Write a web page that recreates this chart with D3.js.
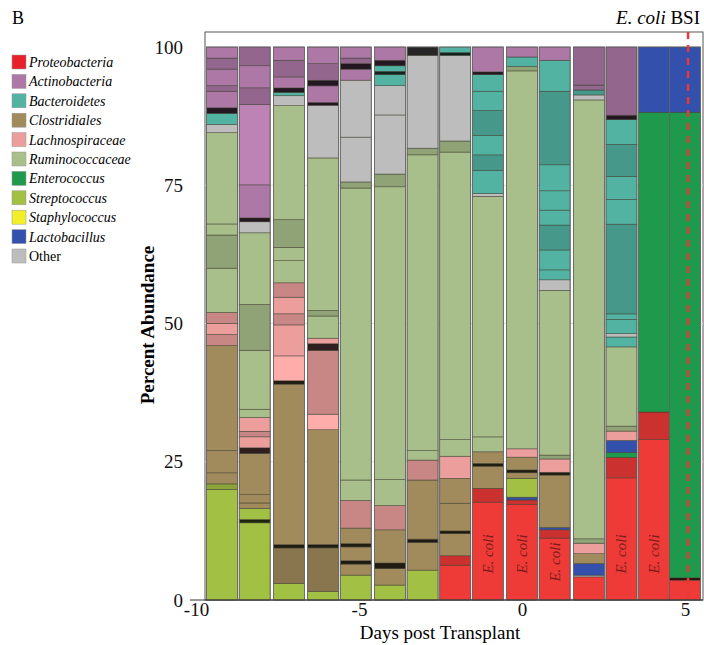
<!DOCTYPE html>
<html>
<meta charset="UTF-8">
<head>
<style>
body { margin: 0; background: white; }
text { font-family: "Liberation Serif", "DejaVu Serif", serif; }
</style>
</head>
<body>
<script src="https://d3js.org/d3.v7.min.js"></script>
<script>

// categories and colours
var categories = ['Proteobacteria', 'Actinobacteria', 'Bacteroidetes', 'Clostridiales',
                  'Lachnospiraceae', 'Ruminococcaceae', 'Enterococcus', 'Streptococcus',
                  'Staphylococcus', 'Lactobacillus', 'Other']
    codes = ['P', 'A', 'B', 'C', 'L', 'R', 'E', 'S', 'Y', 'T', 'O']
    baseColors = ['#ee3b37', '#ad78a6', '#52b3a2', '#a18a5c', '#eb9e9c', '#a9bf8b',
                  '#1f994b', '#a2c043', '#f2ee2a', '#3350ad', '#bdbdbd']

// sample days
var days = [-9.2, -8.2, -7.15, -6.1, -5.1, -4.05, -3.05, -2.05, -1.05, 0, 1, 2.05, 3.05, 4.05, 5]

// segments per sample, bottom to top: [code, percent, shade]
// shade 0 = base, 1 = darker, 2 = near black, 3 = lighter
var bar1 = [['S',20],['S',1,1],['C',2],['C',4],['C',19],['L',2,1],['L',2],['L',2,1],['R',8],['R',6,1],['R',2],['R',16.5],['O',1.5],['B',2],['A',1,2],['A',3],['A',1,1],['A',3],['A',2,1],['A',2]]
    bar2 = [['S',14],['S',0.6,2],['S',2],['C',1],['C',1.5],['C',7.5],['L',1,2],['L',2],['L',1,1],['L',2.5],['R',1.5],['R',10.7],['R',8.3,1],['R',13],['O',2],['A',0.7,2],['A',6],['A',14.6,3],['A',3,1],['A',4],['A',3.4,1]]
    bar3 = [['S',3],['C',6.4,1],['C',0.6,2],['C',29],['C',0.6,2],['L',4.5,3],['L',5.6],['L',2,1],['L',3],['L',2.6,1],['R',4],['R',2.4],['R',5,1],['R',20.6],['O',1.8],['B',0.6],['A',0.8,2],['A',2],['A',3,1],['A',2.4]]
    bar4 = [['S',1.5],['C',7.9,1],['C',0.6,2],['C',20.7],['L',2.8,3],['L',11.5,1],['L',1.2,2],['L',1],['R',4],['R',1,1],['R',27.5],['O',9.5],['A',0.5,2],['A',3],['A',1,2],['A',3,1],['A',3]]
    bar5 = [['S',4.5],['C',2],['C',0.6,2],['C',2.5],['C',0.6,2],['C',2.8],['L',5,1],['R',3.7],['R',52.8],['R',1.1,1],['O',8.1],['O',10.3],['A',2],['A',1,2],['A',1,1],['A',2]]
    bar6 = [['S',2.7],['C',3],['C',1,2],['C',6],['L',4.4,1],['R',4.7],['R',53],['R',2.3,1],['O',10.7],['O',5.3],['B',2],['B',0.6,2],['B',1],['A',1,2],['A',2.4]]
    bar7 = [['S',5.4],['C',5],['C',0.6,2],['C',10.7],['L',3.6,1],['R',1.7],['R',53.5],['R',1.2,1],['O',16.8],['O',1.5,2]]
    bar8 = [['P',6.3],['P',1.7,1],['C',4],['C',0.5,2],['C',5],['C',4.5],['L',4],['R',3],['R',52],['R',2,1],['O',15.5],['B',0.5,2],['B',1]]
    bar9 = [['P',17.7],['P',2.5,1],['C',4],['C',0.5,2],['C',2.1],['R',2.7],['R',43.5],['O',0.5],['B',4.2],['B',2.8,1],['B',3.5],['B',4.5,1],['B',3.5],['B',3],['A',0.5,2],['A',4.5]]
    bar10 = [['P',17.2],['P',0.8,1],['T',0.5],['S',3.4],['C',1],['C',0.5,2],['C',2.3],['L',1.5],['R',68],['R',0.8,1],['B',1.7],['A',1.8]]
    bar11 = [['P',11.2],['P',1.5,1],['T',0.4],['C',9.5],['C',0.5,2],['L',2.4],['R',0.7,1],['R',29.8],['O',1.9],['B',1.8],['B',3.6],['B',4.5,1],['B',2.7],['B',3.5],['B',4.7],['B',13.3,1],['B',5.6],['A',2.4]]
    bar12 = [['P',4.2],['O',0.3],['T',2.1],['C',1.8],['L',1.9],['R',0.8,1],['R',79.6],['O',0.9],['B',0.9,1],['A',0.9,1],['A',6.9,1]]
    bar13 = [['P',22.2],['P',3.7,1],['E',0.9],['T',2.2],['L',1.7],['R',0.9,1],['R',14.4],['B',1.8],['O',0.6],['B',2.6],['B',1],['B',16.3,1],['B',4.5],['B',4.2],['B',5.8,1],['B',4.5],['A',0.8,2],['A',12.4,1]]
    bar14 = [['P',29],['P',5,1],['E',54.2],['T',11.8]]
    bar15 = [['P',3.6],['P',0.4,2],['E',84.2],['T',11.8]]
    bars = [bar1, bar2, bar3, bar4, bar5, bar6, bar7, bar8, bar9, bar10, bar11, bar12, bar13, bar14, bar15]

// which samples carry an "E. coli" label
var ecoliBars = [8, 9, 10, 12, 13]
    xTicks = [-10, -5, 0, 5]
    yTicks = [0, 25, 50, 75, 100]
    bsiDay = 5

var svgWidth = 704
    svgHeight = 645
    plot = {left: 205, right: 703, top: 32, bottom: 600}
    barWidth = 31

var svg = d3.select('body').append('svg')
    .attr('width', svgWidth)
    .attr('height', svgHeight)

var xScale = d3.scaleLinear().domain([-10, 5.55]).range([196, 703])
    yScale = d3.scaleLinear().domain([0, 100]).range([plot.bottom, 47])

function shade(code, s) {
  var c = d3.color(baseColors[codes.indexOf(code)])
  if (s == 1) return c.darker(0.45)
  if (s == 2) return d3.interpolateRgb(c, '#000')(0.8)
  if (s == 3) return c.brighter(0.25)
  return c
}

// frame
svg.append('rect')
    .attr('x', plot.left).attr('y', plot.top)
    .attr('width', plot.right - plot.left).attr('height', plot.bottom - plot.top)
    .attr('fill', 'none').attr('stroke', '#555').attr('stroke-width', 1)

// faint gridlines
svg.selectAll('.grid').data(yTicks.slice(1, 4)).enter().append('line')
    .attr('x1', plot.left).attr('x2', plot.right)
    .attr('y1', d => yScale(d)).attr('y2', d => yScale(d))
    .attr('stroke', '#ddd')

// stacked bars
bars.forEach(function(segs, i) {
  var total = d3.sum(segs, d => d[1])
  var y0 = 0
  var rows = segs.map(function(d) {
    var r = {code: d[0], s: d[2] || 0, y0: y0, y1: y0 + d[1] * 100 / total}
    y0 = r.y1
    return r
  })
  var g = svg.append('g')
  g.selectAll('rect').data(rows).enter().append('rect')
      .attr('x', xScale(days[i]) - barWidth / 2)
      .attr('width', barWidth)
      .attr('y', d => yScale(d.y1))
      .attr('height', d => yScale(d.y0) - yScale(d.y1))
      .attr('fill', d => shade(d.code, d.s))
      .attr('stroke', '#3a3a2a')
      .attr('stroke-width', 0.6)
      .attr('stroke-opacity', 0.8)
  g.append('rect')
      .attr('x', xScale(days[i]) - barWidth / 2).attr('width', barWidth)
      .attr('y', yScale(100)).attr('height', yScale(0) - yScale(100))
      .attr('fill', 'none').attr('stroke', '#666').attr('stroke-width', 0.8)
})

// E. coli labels
svg.selectAll('.ecoli').data(ecoliBars).enter().append('text')
    .attr('transform', d => 'translate(' + (xScale(days[d]) + 5) + ',' + (d == 10 ? 562 : 554) + ') rotate(-90)')
    .attr('text-anchor', 'middle')
    .attr('font-style', 'italic')
    .attr('font-size', 15)
    .attr('fill', '#7a1c1c')
    .text('E. coli')

// BSI marker
svg.append('line')
    .attr('x1', xScale(bsiDay) + 3).attr('x2', xScale(bsiDay) + 3)
    .attr('y1', plot.top).attr('y2', plot.bottom)
    .attr('stroke', '#e8383a').attr('stroke-width', 2.5)
    .attr('stroke-dasharray', '7,6')
svg.append('text')
    .attr('x', 700).attr('y', 24)
    .attr('text-anchor', 'end').attr('font-size', 19)
    .html('<tspan font-style="italic">E. coli</tspan> BSI')

// axes
var xAxis = d3.axisBottom(xScale).tickValues(xTicks).tickSize(0).tickPadding(2).tickFormat(d => d < 0 ? '-' + Math.abs(d) : d)
svg.append('g')
    .attr('transform', 'translate(0,' + plot.bottom + ')')
    .call(xAxis)
    .call(g => g.select('.domain').attr('stroke', '#333').attr('d', 'M190,0H703'))
    .selectAll('text')
      .attr('font-family', '"Liberation Serif", serif')
      .attr('font-size', 19).attr('fill', '#111').attr('dy', '0.75em')

var yAxis = d3.axisLeft(yScale).tickValues(yTicks).tickSize(0).tickPadding(22)
svg.append('g')
    .attr('transform', 'translate(' + plot.left + ',0)')
    .call(yAxis)
    .call(g => g.select('.domain').remove())
    .selectAll('text')
      .attr('font-family', '"Liberation Serif", serif')
      .attr('font-size', 19).attr('fill', '#111')

svg.append('text')
    .attr('x', 440).attr('y', 639)
    .attr('text-anchor', 'middle').attr('font-size', 19)
    .text('Days post Transplant')

svg.append('text')
    .attr('transform', 'translate(154,325) rotate(-90)')
    .attr('text-anchor', 'middle').attr('font-size', 19).attr('font-weight', 'bold')
    .text('Percent Abundance')

svg.append('text')
    .attr('x', 12).attr('y', 24).attr('font-size', 18)
    .text('B')

// legend
var legend = svg.selectAll('.leg').data(categories).enter().append('g')
    .attr('transform', (d, i) => 'translate(12,' + (55 + i * 19.4) + ')')
legend.append('rect')
    .attr('width', 14).attr('height', 14)
    .attr('fill', (d, i) => i == 0 ? '#e8202a' : baseColors[i])
    .attr('stroke', '#999').attr('stroke-width', 0.5)
legend.append('text')
    .attr('x', 17).attr('y', 12)
    .attr('font-size', 14)
    .attr('font-style', (d, i) => i == categories.length - 1 ? 'normal' : 'italic')
    .text(d => d)

</script>
</body>
</html>
